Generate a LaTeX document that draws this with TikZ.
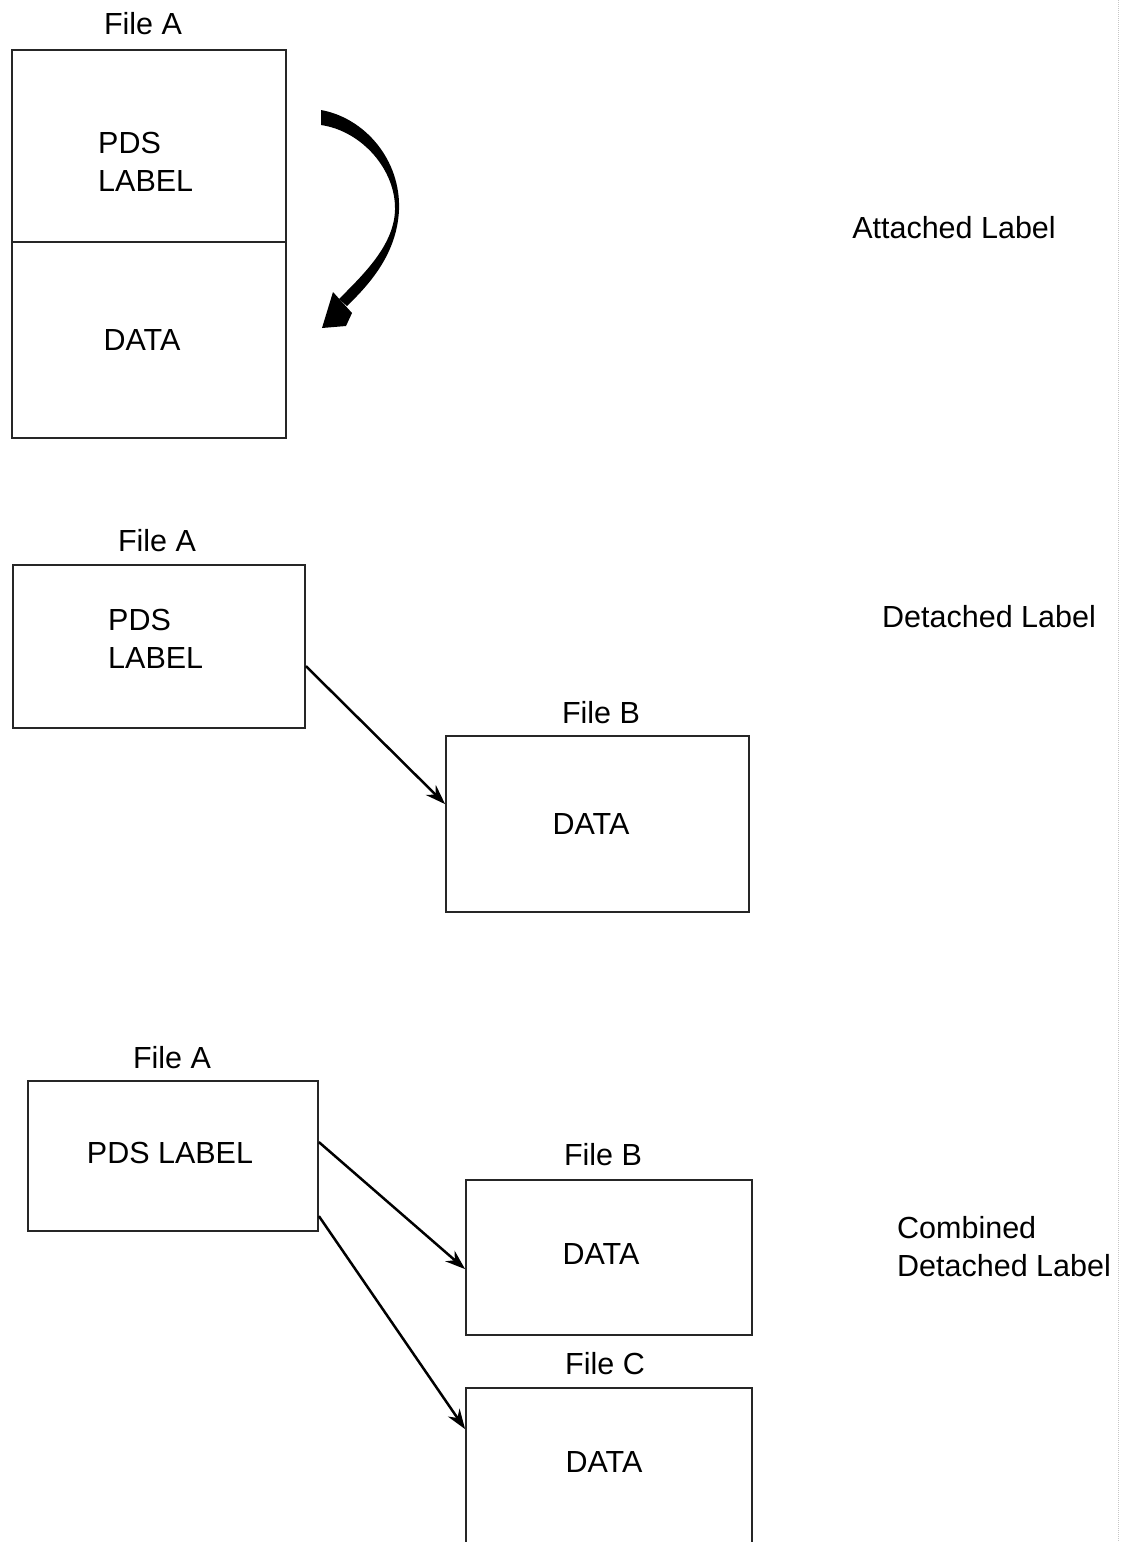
\documentclass[tikz,border=0pt]{standalone}
\usepackage{fontspec}
\setmainfont{Liberation Sans}
\usetikzlibrary{arrows.meta,calc}
\tikzset{
  filebox/.style={draw=black!85, line width=1.8pt, rectangle, inner sep=0pt},
  lbl/.style={inner sep=0pt, font=\fontsize{30.5}{38}\selectfont},
  conn/.style={draw=black, line width=2.5pt, -{Stealth[length=20pt,width=14pt]}},
}
\begin{document}
\begin{tikzpicture}[x=1pt,y=-1pt]
\useasboundingbox (0,0) rectangle (1124,1542);
\clip (0,0) rectangle (1124,1542);
\fill[white] (0,0) rectangle (1124,1542);

% faint scan edge on the right
\draw[gray!45, line width=1pt, densely dotted] (1118,0) -- (1118,1542);

% ---------- Attached label ----------
\node[lbl] (t1) at (143,24) {File A};
\node[filebox, minimum width=274pt, minimum height=192pt] (a1lab) at (149,146) {};
\node[filebox, minimum width=274pt, minimum height=196pt] (a1dat) at (149,340) {};
\node[lbl, anchor=west, align=left] (p1) at (98,162) {PDS\\LABEL};
\node[lbl] (d1) at (142,340) {DATA};
\node[lbl] (r1) at (954,228) {Attached Label};

% curved tapered arrow
\fill[black] (321,110) .. controls (365,118) and (401,160) .. (399,210)
  .. controls (397,252) and (372,282) .. (347,306)
  -- (339,299) .. controls (364,274) and (394,245) .. (395,210)
  .. controls (396,170) and (362,131) .. (321,125) -- cycle;
\fill[black] (333,292) -- (352,313) -- (346,326) -- (322,328) -- cycle;

% ---------- Detached label ----------
\node[lbl] (t2) at (157,541) {File A};
\node[filebox, minimum width=292pt, minimum height=163pt] (fa2) at (159,646.5) {};
\node[lbl, anchor=west, align=left] (p2) at (108,639) {PDS\\LABEL};
\node[lbl] (t2b) at (601,713) {File B};
\node[filebox, minimum width=303pt, minimum height=176pt] (fb2) at (597.5,824) {};
\node[lbl] (d2) at (591,824) {DATA};
\node[lbl] (r2) at (989,617) {Detached Label};
\draw[conn] ($(fa2.north east)+(0,102)$) -- ($(fb2.north west)+(0,69)$);

% ---------- Combined detached label ----------
\node[lbl] (t3) at (172,1058) {File A};
\node[filebox, minimum width=290pt, minimum height=150pt] (fa3) at (173,1156) {};
\node[lbl] (p3) at (170,1153) {PDS LABEL};
\node[lbl] (t3b) at (603,1155) {File B};
\node[filebox, minimum width=286pt, minimum height=155pt] (fb3) at (609,1257.5) {};
\node[lbl] (d3b) at (601,1254) {DATA};
\node[lbl] (t3c) at (605,1364) {File C};
\node[filebox, minimum width=286pt, minimum height=212pt] (fc3) at (609,1494) {};
\node[lbl] (d3c) at (604,1462) {DATA};
\node[lbl, anchor=west, align=left] (r3) at (897,1246.5) {Combined\\Detached Label};
\draw[conn] ($(fa3.north east)+(0,62)$) -- ($(fb3.north west)+(0,90)$);
\draw[conn] ($(fa3.north east)+(0,136)$) -- ($(fc3.north west)+(0,42)$);
\end{tikzpicture}
\end{document}
